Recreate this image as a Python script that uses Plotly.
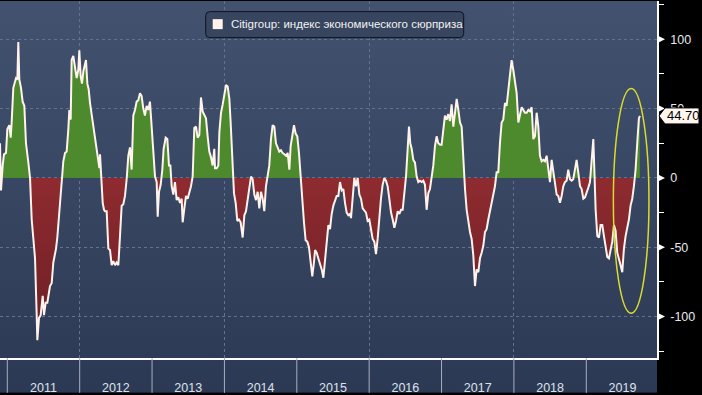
import base64
import plotly.graph_objects as go

# ---- data (decimal year, Citi economic surprise index) ----
t_year = [
    2010.899, 2010.913, 2010.936, 2010.954, 2010.982, 2011.000, 2011.028, 2011.047, 2011.060, 2011.083,
    2011.120, 2011.139, 2011.152, 2011.166, 2011.189, 2011.212, 2011.235, 2011.258, 2011.291, 2011.314,
    2011.337, 2011.360, 2011.383, 2011.406, 2011.415, 2011.438, 2011.461, 2011.489, 2011.507, 2011.530,
    2011.553, 2011.590, 2011.613, 2011.636, 2011.673, 2011.691, 2011.719, 2011.742, 2011.756, 2011.774,
    2011.797, 2011.820, 2011.843, 2011.857, 2011.876, 2011.889, 2011.912, 2011.935, 2011.958, 2011.981,
    2011.995, 2012.014, 2012.032, 2012.051, 2012.074, 2012.087, 2012.106, 2012.124, 2012.143, 2012.166,
    2012.189, 2012.212, 2012.235, 2012.258, 2012.272, 2012.281, 2012.295, 2012.318, 2012.336, 2012.350,
    2012.373, 2012.396, 2012.419, 2012.442, 2012.465, 2012.488, 2012.511, 2012.534, 2012.557, 2012.580,
    2012.603, 2012.626, 2012.649, 2012.672, 2012.695, 2012.718, 2012.741, 2012.764, 2012.787, 2012.810,
    2012.833, 2012.856, 2012.879, 2012.902, 2012.925, 2012.948, 2012.971, 2012.995, 2013.018, 2013.041,
    2013.064, 2013.078, 2013.096, 2013.119, 2013.142, 2013.160, 2013.188, 2013.211, 2013.234, 2013.253,
    2013.271, 2013.294, 2013.317, 2013.340, 2013.363, 2013.386, 2013.409, 2013.423, 2013.446, 2013.469,
    2013.492, 2013.515, 2013.538, 2013.561, 2013.584, 2013.607, 2013.630, 2013.653, 2013.676, 2013.699,
    2013.722, 2013.745, 2013.768, 2013.791, 2013.814, 2013.837, 2013.860, 2013.870, 2013.893, 2013.916,
    2013.930, 2013.953, 2013.976, 2013.999, 2014.022, 2014.045, 2014.068, 2014.086, 2014.100, 2014.114,
    2014.132, 2014.155, 2014.178, 2014.201, 2014.224, 2014.252, 2014.275, 2014.298, 2014.321, 2014.344,
    2014.367, 2014.390, 2014.413, 2014.436, 2014.459, 2014.482, 2014.505, 2014.528, 2014.551, 2014.574,
    2014.597, 2014.620, 2014.643, 2014.666, 2014.689, 2014.712, 2014.735, 2014.758, 2014.781, 2014.804,
    2014.828, 2014.851, 2014.874, 2014.897, 2014.915, 2014.938, 2014.961, 2014.984, 2015.007, 2015.030,
    2015.053, 2015.076, 2015.099, 2015.122, 2015.145, 2015.168, 2015.191, 2015.214, 2015.237, 2015.252,
    2015.274, 2015.297, 2015.321, 2015.344, 2015.367, 2015.390, 2015.413, 2015.436, 2015.459, 2015.482,
    2015.505, 2015.528, 2015.551, 2015.574, 2015.597, 2015.620, 2015.643, 2015.666, 2015.689, 2015.712,
    2015.735, 2015.749, 2015.772, 2015.795, 2015.818, 2015.841, 2015.864, 2015.887, 2015.910, 2015.933,
    2015.956, 2015.979, 2016.002, 2016.025, 2016.048, 2016.071, 2016.094, 2016.117, 2016.140, 2016.163,
    2016.186, 2016.209, 2016.232, 2016.255, 2016.278, 2016.302, 2016.325, 2016.348, 2016.371, 2016.394,
    2016.417, 2016.440, 2016.463, 2016.486, 2016.509, 2016.532, 2016.550, 2016.568, 2016.587, 2016.610,
    2016.633, 2016.656, 2016.679, 2016.702, 2016.725, 2016.748, 2016.771, 2016.794, 2016.817, 2016.840,
    2016.863, 2016.886, 2016.909, 2016.932, 2016.955, 2016.978, 2017.001, 2017.024, 2017.047, 2017.070,
    2017.093, 2017.116, 2017.139, 2017.163, 2017.186, 2017.209, 2017.232, 2017.255, 2017.278, 2017.301,
    2017.324, 2017.347, 2017.370, 2017.393, 2017.416, 2017.439, 2017.462, 2017.485, 2017.508, 2017.531,
    2017.554, 2017.577, 2017.600, 2017.623, 2017.646, 2017.669, 2017.692, 2017.715, 2017.738, 2017.761,
    2017.784, 2017.807, 2017.830, 2017.853, 2017.876, 2017.899, 2017.922, 2017.945, 2017.968, 2017.991,
    2018.014, 2018.038, 2018.061, 2018.084, 2018.107, 2018.130, 2018.153, 2018.176, 2018.199, 2018.222,
    2018.245, 2018.268, 2018.291, 2018.314, 2018.337, 2018.360, 2018.383, 2018.406, 2018.429, 2018.452,
    2018.475, 2018.498, 2018.521, 2018.544, 2018.567, 2018.590, 2018.613, 2018.636, 2018.659, 2018.682,
    2018.705, 2018.728, 2018.751, 2018.774, 2018.797, 2018.820, 2018.843, 2018.866, 2018.889, 2018.913,
    2018.936, 2018.959, 2018.982, 2019.005, 2019.028, 2019.051, 2019.074, 2019.097, 2019.111, 2019.129,
    2019.152, 2019.175, 2019.198, 2019.221, 2019.244, 2019.267, 2019.290, 2019.313, 2019.336, 2019.359,
    2019.382, 2019.405, 2019.428, 2019.451, 2019.474, 2019.497, 2019.520, 2019.543, 2019.566, 2019.589,
    2019.612, 2019.635, 2019.658, 2019.681, 2019.704, 2019.727, 2019.741,
]
surprise = [
    25, -9, 9, 17, 18, 35, 38, 29, 40, 65,
    72, 71, 98, 71, 65, 55, 52, 25, 11, 0,
    -30, -46, -58, -99, -117, -101, -99, -85, -99, -90,
    -90, -78, -76, -61, -51, -43, -23, -6, 0, 12,
    18, 19, 35, 49, 42, 85, 88, 78, 72, 78,
    92, 73, 68, 77, 83, 85, 68, 64, 54, 45,
    37, 28, 21, 11, 7, 17, 1, -18, -23, -24,
    -24, -51, -52, -63, -60, -63, -61, -63, -42, -20,
    -19, -13, -1, 16, 22, 6, 45, 49, 55, 56,
    61, 59, 50, 45, 52, 49, 55, 35, 18, 1,
    -3, -28, -10, -5, 6, 21, 29, 28, 9, 9,
    -6, -12, -3, -16, -14, -18, -15, -32, -22, -13,
    -15, -11, -6, 1, 36, 37, 29, 31, 58, 48,
    45, 43, 30, 19, 15, 9, 21, 7, 7, 9,
    33, 47, 53, 59, 67, 66, 57, 40, 23, 0,
    -11, -18, -31, -30, -32, -43, -27, -24, -15, -8,
    1, -1, -12, -16, -10, -22, -10, -15, -24, -6,
    3, 9, 28, 38, 37, 25, 22, 19, 20, 18,
    17, 16, 18, 6, 23, 30, 38, 32, 30, 18,
    0, -18, -32, -45, -46, -50, -61, -71, -61, -52,
    -54, -58, -63, -66, -72, -58, -44, -34, -37, -26,
    -20, -17, -13, -13, -3, -9, -8, -18, -25, -27,
    -26, -29, -13, 0, -6, 0, -12, -15, -22, -24,
    -25, -31, -30, -37, -44, -46, -55, -44, -27, -15,
    -5, 0, -2, -6, -15, -25, -30, -36, -31, -24,
    -26, -23, -23, -13, 1, 21, 37, 25, 21, 13,
    11, 1, -3, -2, -3, -2, -5, -23, -11, -8,
    0, 9, 23, 30, 25, 24, 24, 35, 45, 42,
    46, 41, 53, 37, 49, 57, 49, 40, 37, 9,
    -8, -23, -32, -39, -44, -56, -78, -66, -68, -58,
    -54, -49, -39, -37, -30, -24, -18, -11, -6, 4,
    4, 25, 40, 42, 54, 52, 64, 73, 85, 78,
    71, 61, 40, 47, 51, 49, 47, 47, 49, 48,
    51, 28, 30, 47, 37, 16, 12, 13, 12, 16,
    6, -3, 13, 4, -6, -12, -13, -18, -13, -6,
    -3, -2, 6, -1, -2, -1, 6, 13, 4, -6,
    -8, -15, -14, -11, -7, -3, 13, 28, 6, -23,
    -42, -43, -34, -34, -42, -51, -57, -58, -51, -46,
    -34, -38, -54, -58, -63, -68, -51, -42, -36, -30,
    -20, -15, -6, 6, 25, 43, 44.7,
]

years = [2011, 2012, 2013, 2014, 2015, 2016, 2017, 2018, 2019]
year_labels = [str(y) for y in years]
x_grid_years = [2012, 2014, 2016, 2018]
y_tick_vals = [-100, -50, 0, 50, 100]
y_tick_text = ["-100", "-50", "0", "50", "100"]
y_minor_vals = [-125, -75, -25, 25, 75, 125]
series_name = "Citigroup: индекс экономического сюрприза"
# highlighted window (ellipse) around the 2019 rebound
hl_t0, hl_t1 = 2019.374, 2019.866
hl_v0, hl_v1 = -97.6, 64.4

X_RANGE = [2010.899, 2019.977]
Y_RANGE = [-129.9, 127.6]

# ---- helpers: split series into positive / negative fills with zero crossings ----
def split_fill(t, v):
    pt, pv, nt, nv = [], [], [], []
    for i in range(len(t)):
        if i > 0 and v[i - 1] * v[i] < 0:
            tc = t[i - 1] + (t[i] - t[i - 1]) * (v[i - 1] / (v[i - 1] - v[i]))
            pt.append(tc); pv.append(0)
            nt.append(tc); nv.append(0)
        pt.append(t[i]); pv.append(max(v[i], 0))
        nt.append(t[i]); nv.append(min(v[i], 0))
    return pt, pv, nt, nv

pt, pv, nt, nv = split_fill(t_year, surprise)

FONT = "Liberation Sans"
LINE_COL = "#fff3ec"

fig = go.Figure()
fig.add_trace(go.Scatter(
    x=pt, y=pv, mode="lines", fill="tozeroy", fillcolor="#4d8a2d",
    line=dict(width=0, color="rgba(0,0,0,0)"), hoverinfo="skip"))
fig.add_trace(go.Scatter(
    x=nt, y=nv, mode="lines", fill="tozeroy",
    fillgradient=dict(type="vertical", start=-120, stop=0,
                      colorscale=[[0, "#6c1e25"], [1, "#8e2b30"]]),
    line=dict(width=0, color="rgba(0,0,0,0)"), hoverinfo="skip"))
fig.add_trace(go.Scatter(
    x=t_year, y=surprise, mode="lines", name=series_name,
    line=dict(color=LINE_COL, width=2)))

# background gradient (plot area + bottom strip)
svg = ('<svg xmlns="http://www.w3.org/2000/svg" width="10" height="100" preserveAspectRatio="none">'
       '<defs><linearGradient id="g" x1="0" y1="0" x2="0" y2="1">'
       '<stop offset="0" stop-color="#42526f"/><stop offset="1" stop-color="#2c3954"/>'
       '</linearGradient></defs><rect width="10" height="100" fill="url(#g)"/></svg>')
bg_uri = "data:image/svg+xml;base64," + base64.b64encode(svg.encode()).decode()

PLOT_H = 395 - 1 - 35
bottom_paper = -35 / PLOT_H

shapes = []
# year separators under the axis
for y in years:
    shapes.append(dict(type="line", xref="x", yref="paper", x0=y, x1=y,
                       y0=0, y1=bottom_paper, line=dict(color="#a7afbf", width=1)))
# triangular major tick marks on right axis
for v in y_tick_vals:
    shapes.append(dict(type="path", xref="paper", yref="y", xsizemode="pixel",
                       ysizemode="pixel", xanchor=1, yanchor=v,
                       path="M 0,4 L 8,0 L 0,-4 Z", fillcolor="white",
                       line=dict(width=0)))
# highlight ellipse
shapes.append(dict(type="circle", xref="x", yref="y", x0=hl_t0, x1=hl_t1,
                   y0=hl_v0, y1=hl_v1, line=dict(color="#d9dc2c", width=1.5)))
# legend box (rounded) and marker
lx, ly = 205.7 / 657, (360 - 11.7) / PLOT_H
w, h, r = 258, 26, 4
box_path = (f"M {r},0 L {w-r},0 Q {w},0 {w},{-r} L {w},{-h+r} Q {w},{-h} {w-r},{-h} "
            f"L {r},{-h} Q 0,{-h} 0,{-h+r} L 0,{-r} Q 0,0 {r},0 Z")
shapes.append(dict(type="path", xref="paper", yref="paper", xsizemode="pixel",
                   ysizemode="pixel", xanchor=lx, yanchor=ly, path=box_path,
                   fillcolor="#37455f", line=dict(color="#0d1320", width=1)))
shapes.append(dict(type="path", xref="paper", yref="paper", xsizemode="pixel",
                   ysizemode="pixel", xanchor=lx, yanchor=ly,
                   path="M 7,-7.5 L 17,-7.5 L 17,-17.5 L 7,-17.5 Z",
                   fillcolor=LINE_COL, line=dict(width=0)))
# last value label
last_val = surprise[-1]
shapes.append(dict(type="path", xref="paper", yref="y", xsizemode="pixel",
                   ysizemode="pixel", xanchor=1, yanchor=last_val,
                   path="M 2,0 L 8,8 L 42,8 L 42,-8 L 8,-8 Z",
                   fillcolor="#fff6f0", line=dict(color="black", width=1)))

annotations = [
    dict(xref="paper", yref="paper", x=228.5 / 657, y=(360 - 24.5) / PLOT_H,
         xanchor="left", yanchor="middle", text=series_name, showarrow=False,
         font=dict(family=FONT, size=11.5, color="#f2f2f2")),
    dict(xref="paper", yref="y", x=1, y=last_val, xanchor="left", yanchor="middle",
         xshift=8, text=f"{last_val:.2f}", showarrow=False,
         font=dict(family=FONT, size=13, color="black")),
]

fig.update_layout(
    width=702, height=395,
    margin=dict(l=0, r=45, t=1, b=35),
    paper_bgcolor="black", plot_bgcolor="rgba(0,0,0,0)",
    showlegend=False,
    images=[dict(source=bg_uri, xref="paper", yref="paper", x=0, y=1,
                 sizex=1, sizey=1 - bottom_paper, sizing="stretch",
                 xanchor="left", yanchor="top", layer="below")],
    shapes=shapes, annotations=annotations,
    xaxis=dict(range=X_RANGE, tickmode="array",
               tickvals=[y + 0.5 for y in years], ticktext=year_labels,
               ticks="outside", ticklen=17, tickcolor="rgba(0,0,0,0)",
               tickfont=dict(family=FONT, size=12.5, color="#dde2ea"),
               showgrid=False, zeroline=False, showline=True,
               linecolor="white", linewidth=1.5,
               minor=dict(tickmode="array", tickvals=x_grid_years, showgrid=True,
                          gridcolor="#62728f", griddash="dot", gridwidth=1, ticks="")),
    yaxis=dict(range=Y_RANGE, side="right", tickmode="array",
               tickvals=y_tick_vals, ticktext=y_tick_text,
               ticks="outside", ticklen=9, tickcolor="rgba(0,0,0,0)",
               tickfont=dict(family=FONT, size=12.5, color="#e6e9ef"),
               showgrid=True, gridcolor="#62728f", griddash="dot", gridwidth=1,
               zeroline=False, showline=True, linecolor="white", linewidth=1.5,
               minor=dict(tickmode="array", tickvals=y_minor_vals, ticks="outside",
                          ticklen=5, tickcolor="white", tickwidth=1, showgrid=False)),
)

fig.write_html("out.html", config={"displayModeBar": False},
               post_script="document.body.style.margin='0px';document.body.style.background='black';")
